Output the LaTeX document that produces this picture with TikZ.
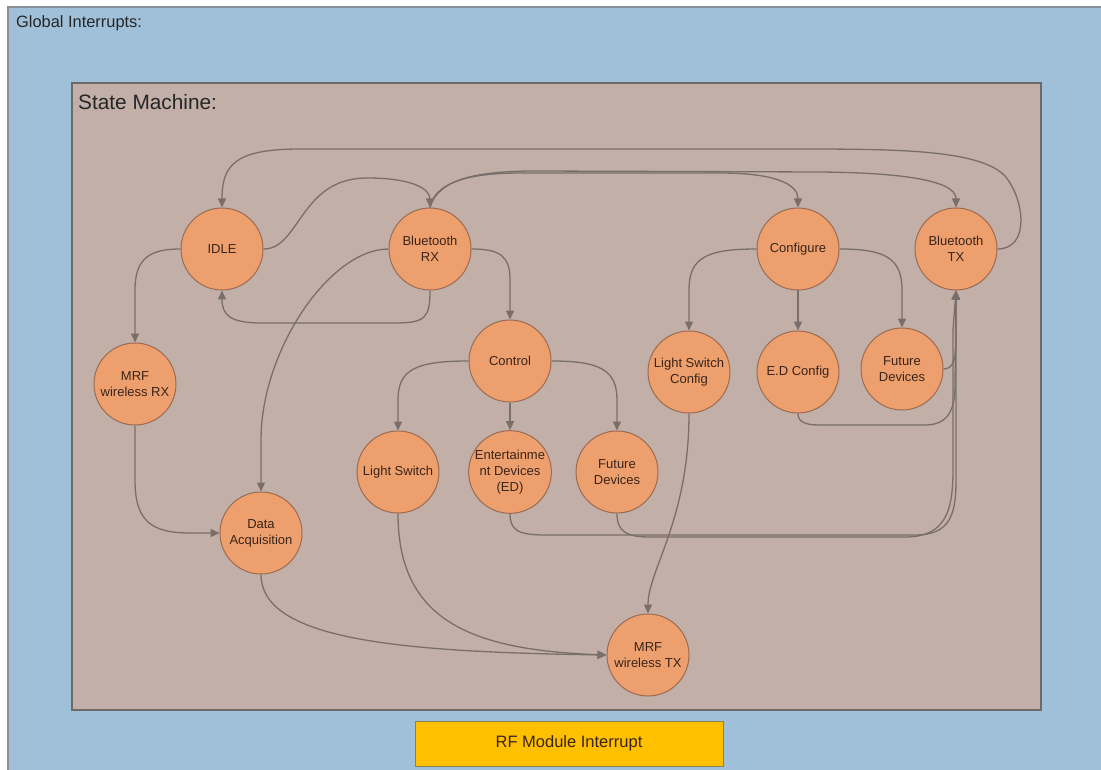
\documentclass[tikz,border=0pt]{standalone}
\usepackage{fontspec}
\setmainfont{Liberation Sans}
\usetikzlibrary{arrows.meta}
\definecolor{skyblue}{HTML}{A0C0DA}
\definecolor{skyedge}{HTML}{8A9098}
\definecolor{taupe}{HTML}{C1AFA8}
\definecolor{taupeedge}{HTML}{6E6A6A}
\definecolor{statefill}{HTML}{EDA06E}
\definecolor{stateedge}{HTML}{9C6A50}
\definecolor{wire}{HTML}{7A6E6A}
\definecolor{statetext}{HTML}{3A2418}
\definecolor{amber}{HTML}{FFC000}
\definecolor{amberedge}{HTML}{8C7F55}
\tikzset{
  statenode/.style={circle, minimum size=82pt, inner sep=0pt, align=center,
    fill=statefill, draw=stateedge, line width=1pt, text=statetext,
    font=\fontsize{13}{16}\selectfont},
  flow/.style={draw=wire, line width=1.3pt,
    -{Triangle[length=9pt,width=8pt,fill=wire]}},
  caption/.style={anchor=west, inner sep=0pt, text=black!85},
}
\begin{document}
\begin{tikzpicture}[x=1pt, y=-1pt]
\useasboundingbox (0,0) rectangle (1101,770);
\clip (0,0) rectangle (1101,770);
\fill[white] (0,0) rectangle (1101,770);

% frames
\filldraw[fill=skyblue, draw=skyedge, line width=2pt] (8,7) rectangle (1112,782);
\filldraw[fill=taupe, draw=taupeedge, line width=1.5pt] (72,83) rectangle (1041,710);
\node[caption, font=\fontsize{16.4}{18}\selectfont] (gi) at (16,23) {Global Interrupts:};
\node[caption, font=\fontsize{20.8}{24}\selectfont] (sm) at (78,102) {State Machine:};

% interrupt box
\node[draw=amberedge, fill=amber, line width=1pt, minimum width=308pt,
      minimum height=45pt, inner sep=0pt, text=statetext,
      font=\fontsize{16.5}{18}\selectfont] (rf) at (569,743.5) {RF Module Interrupt};

% states
\node[statenode] (idle)  at (222,249) {IDLE};
\node[statenode] (btrx)  at (430,249) {Bluetooth\\RX};
\node[statenode] (conf)  at (798,249) {Configure};
\node[statenode] (bttx)  at (956,249) {Bluetooth\\TX};
\node[statenode] (ctrl)  at (510,361) {Control};
\node[statenode] (lsc)   at (689,372) {Light Switch\\Config};
\node[statenode] (edc)   at (798,372) {E.D Config};
\node[statenode] (fdc)   at (902,369) {Future\\Devices};
\node[statenode] (mrfrx) at (135,384) {MRF\\wireless RX};
\node[statenode] (ls)    at (398,472) {Light Switch};
\node[statenode] (ed)    at (510,472) {Entertainme\\nt Devices\\(ED)};
\node[statenode] (fd)    at (617,472) {Future\\Devices};
\node[statenode] (daq)   at (261,533) {Data\\Acquisition};
\node[statenode] (mrftx) at (648,655) {MRF\\wireless TX};

% transitions from IDLE / Bluetooth RX
\draw[flow] (idle.west) .. controls (150,249) and (135,258) .. (135,290) -- (mrfrx.north);
\draw[flow] (idle.east) .. controls (300,249) and (300,178) .. (367,178)
            .. controls (415,178) and (430,190) .. (btrx.north);
\draw[flow] (btrx.south) .. controls (430,318) and (425,323) .. (395,323) -- (262,323)
            .. controls (230,323) and (222,315) .. (idle.south);
\draw[flow] (bttx.east) .. controls (1030,249) and (1025,200) .. (1005,176)
            .. controls (980,150) and (900,149) .. (800,149) -- (300,149)
            .. controls (235,149) and (222,165) .. (idle.north);
\draw[flow] (btrx.north) .. controls (434,186) and (460,173) .. (520,173) -- (720,173)
            .. controls (780,173) and (798,186) .. (conf.north);
\draw[flow] (btrx.north) .. controls (437,183) and (466,171) .. (535,171) -- (820,172)
            .. controls (930,173) and (956,186) .. (bttx.north);
\draw[flow] (btrx.east) .. controls (500,249) and (510,256) .. (510,280) -- (ctrl.north);
\draw[flow] (btrx.west) .. controls (330,249) and (261,350) .. (261,440) -- (daq.north);

% data path
\draw[flow] (mrfrx.south) -- (135,480) .. controls (135,520) and (150,533) .. (190,533) -- (daq.west);
\draw[flow] (daq.south) .. controls (261,640) and (400,652) .. (mrftx.west);
\draw[flow] (ls.south) .. controls (398,620) and (470,650) .. (mrftx.west);
\draw[flow] (lsc.south) .. controls (689,520) and (648,570) .. (mrftx.north);

% Control branch
\draw[flow] (ctrl.west) .. controls (415,361) and (398,370) .. (398,400) -- (ls.north);
\draw[flow] (ctrl.south) -- (ed.north);
\draw[flow] (ctrl.east) .. controls (600,361) and (617,370) .. (617,400) -- (fd.north);

% Configure branch
\draw[flow] (conf.west) .. controls (706,249) and (689,258) .. (689,290) -- (lsc.north);
\draw[flow] (conf.south) -- (edc.north);
\draw[flow] (conf.east) .. controls (885,249) and (902,258) .. (902,290) -- (fdc.north);

% replies to Bluetooth TX
\draw[flow] (ed.south) .. controls (510,530) and (518,535) .. (545,535) -- (915,535)
            .. controls (950,535) and (956,515) .. (956,480) -- (bttx.south);
\draw[flow] (fd.south) .. controls (617,532) and (627,537) .. (650,537) -- (905,537)
            .. controls (945,537) and (953,512) .. (953,470) -- (953,330) -- (bttx.south);
\draw[flow] (edc.south) .. controls (798,422) and (805,425) .. (820,425) -- (925,425)
            .. controls (948,425) and (955,410) .. (955,385) -- (bttx.south);
\draw[flow] (fdc.east) .. controls (953,369) and (956,360) .. (956,340) -- (bttx.south);
\end{tikzpicture}
\end{document}
